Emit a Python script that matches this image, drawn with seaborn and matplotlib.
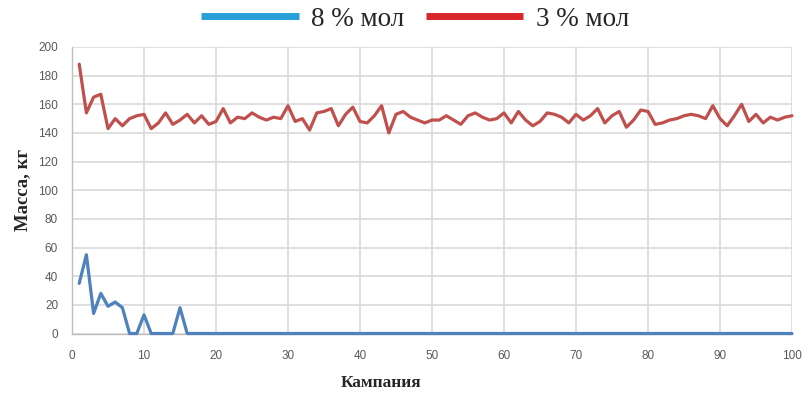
import numpy as np
import pandas as pd
import matplotlib
matplotlib.use("Agg")
import matplotlib.pyplot as plt
from matplotlib.lines import Line2D
import seaborn as sns

# Campaign numbers
campaigns = list(range(1, 101))

# Mass per campaign, 3 % mol
mass_3 = [188, 154, 165, 167, 143, 150, 145, 150, 152, 153,
          143, 147, 154, 146, 149, 153, 147, 152, 146, 148,
          157, 147, 151, 150, 154, 151, 149, 151, 150, 159,
          148, 150, 142, 154, 155, 157, 145, 153, 158, 148,
          147, 152, 159, 140, 153, 155, 151, 149, 147, 149,
          149, 152, 149, 146, 152, 154, 151, 149, 150, 154,
          147, 155, 149, 145, 148, 154, 153, 151, 147, 153,
          149, 152, 157, 147, 152, 155, 144, 149, 156, 155,
          146, 147, 149, 150, 152, 153, 152, 150, 159, 150,
          145, 152, 160, 148, 153, 147, 151, 149, 151, 152]

# Mass per campaign, 8 % mol
mass_8 = [35, 55, 14, 28, 19, 22, 18, 0, 0, 13,
          0, 0, 0, 0, 18] + [0] * 85

series_labels = ["8 % мол", "3 % мол"]
x_ticks = list(range(0, 101, 10))
y_ticks = list(range(0, 201, 20))

line_blue = "#4F81BD"
line_red = "#C0504D"
legend_blue = "#2A9FD8"
legend_red = "#D9262B"
grid_col = "#D9D9D9"
tick_col = "#595959"

sns.set_style("whitegrid")
plt.rcParams["font.family"] = ["Liberation Sans", "DejaVu Sans"]

df = pd.DataFrame({
    "Кампания": campaigns * 2,
    "Масса": mass_8 + mass_3,
    "Серия": [series_labels[0]] * len(campaigns) + [series_labels[1]] * len(campaigns),
})

fig = plt.figure(figsize=(8.06, 3.93), dpi=100)
ax = fig.add_axes([72 / 806, 1 - 333.5 / 393, 720 / 806, 286.5 / 393])

sns.lineplot(data=df, x="Кампания", y="Масса", hue="Серия",
             palette={series_labels[0]: line_blue, series_labels[1]: line_red},
             linewidth=2.3, ax=ax, legend=False, clip_on=False, zorder=3)

ax.set_xlim(0, 100)
ax.set_ylim(0, 200)
ax.set_xticks(x_ticks)
ax.set_yticks(y_ticks)
ax.grid(True, color=grid_col, linewidth=1.2)
for side in ["top", "right"]:
    ax.spines[side].set_visible(False)
for side in ["left", "bottom"]:
    ax.spines[side].set_color("#BFBFBF")
    ax.spines[side].set_linewidth(1.0)
ax.tick_params(axis="both", which="both", length=4, width=1, color="#BFBFBF",
               labelcolor=tick_col, labelsize=8.5, direction="out", pad=6)
ax.tick_params(axis="x", pad=8)

ax.set_xlabel("")
ax.set_ylabel("Масса, кг", family=["Liberation Serif", "DejaVu Serif"],
              fontweight="bold", fontsize=13.5, labelpad=5)
fig.text(381 / 806, 1 - 383 / 393, "Кампания", family=["Liberation Serif", "DejaVu Serif"],
         fontweight="bold", fontsize=12.5, ha="center", va="center")

handles = [Line2D([0], [0], color=legend_blue, linewidth=5, solid_capstyle="butt"),
           Line2D([0], [0], color=legend_red, linewidth=5, solid_capstyle="butt")]
fig.legend(handles, series_labels, loc="center", bbox_to_anchor=(0.515, 1 - 19 / 393),
           ncol=2, frameon=False, handlelength=3.6, handletextpad=0.45, columnspacing=0.8,
           prop={"family": "Liberation Serif", "size": 19.5})

fig.savefig("out.png", dpi=100)
